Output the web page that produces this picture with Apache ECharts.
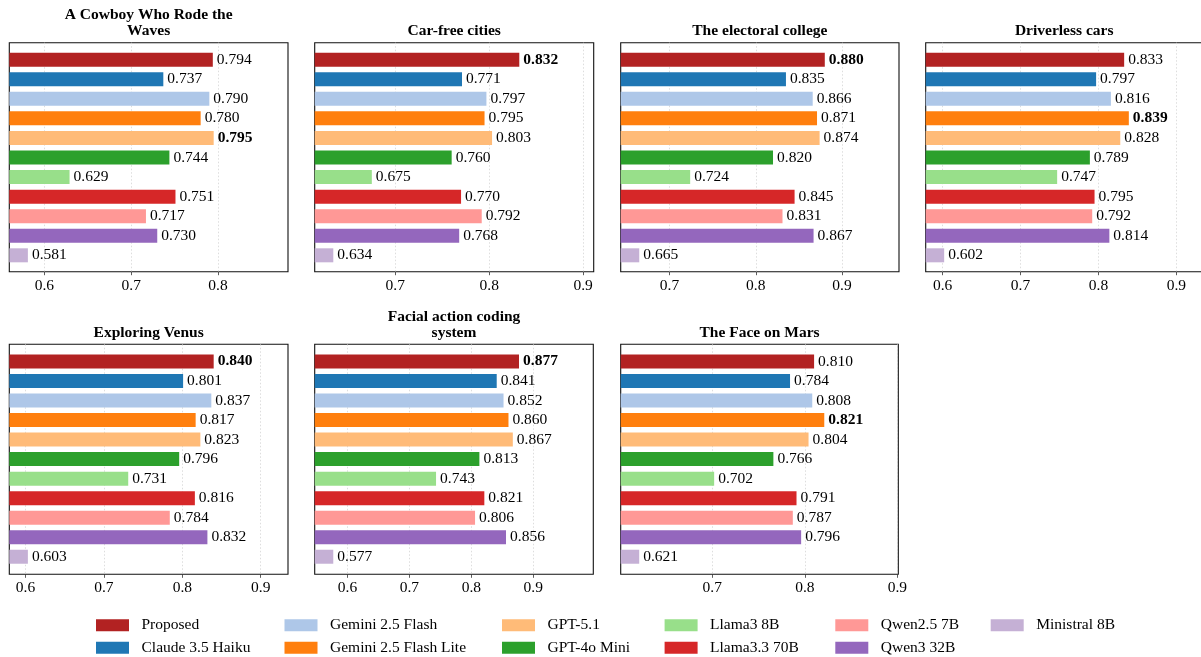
<!DOCTYPE html>
<html><head><meta charset="utf-8">
<script src="https://cdn.jsdelivr.net/npm/echarts@6/dist/echarts.min.js"></script>
<style>html,body{margin:0;padding:0;background:#fff}#c{width:1201px;height:657px}</style>
</head><body><div id="c"></div>
<script>
// ---- data ----
const models = ['Proposed','Claude 3.5 Haiku','Gemini 2.5 Flash','Gemini 2.5 Flash Lite','GPT-5.1','GPT-4o Mini','Llama3 8B','Llama3.3 70B','Qwen2.5 7B','Qwen3 32B','Ministral 8B'];
const colors = ['#b22222','#1f77b4','#aec7e8','#ff7f0e','#ffbb78','#2ca02c','#98df8a','#d62728','#ff9896','#9467bd','#c5b0d5'];
const titles = ['A Cowboy Who Rode the\nWaves','Car-free cities','The electoral college','Driverless cars','Exploring Venus','Facial action coding\nsystem','The Face on Mars'];
const cowboy     = [0.794,0.737,0.790,0.780,0.795,0.744,0.629,0.751,0.717,0.730,0.581];
const carFree    = [0.832,0.771,0.797,0.795,0.803,0.760,0.675,0.770,0.792,0.768,0.634];
const electoral  = [0.880,0.835,0.866,0.871,0.874,0.820,0.724,0.845,0.831,0.867,0.665];
const driverless = [0.833,0.797,0.816,0.839,0.828,0.789,0.747,0.795,0.792,0.814,0.602];
const venus      = [0.840,0.801,0.837,0.817,0.823,0.796,0.731,0.816,0.784,0.832,0.603];
const facs       = [0.877,0.841,0.852,0.860,0.867,0.813,0.743,0.821,0.806,0.856,0.577];
const mars       = [0.810,0.784,0.808,0.821,0.804,0.766,0.702,0.791,0.787,0.796,0.621];
const panelValues = [cowboy, carFree, electoral, driverless, venus, facs, mars];
const tickValues = [[0.6,0.7,0.8],[0.7,0.8,0.9],[0.7,0.8,0.9],[0.6,0.7,0.8,0.9],[0.6,0.7,0.8,0.9],[0.6,0.7,0.8,0.9],[0.7,0.8,0.9]];
const legendColumns = [[0,1],[2,3],[4,5],[6,7],[8,9],[10]];

// ---- layout ----
const FONT = "'Liberation Serif','Times New Roman',serif";
const FS = 15.5;
const boxLeft  = [9.3, 314.7, 620.7, 925.7, 9.3, 314.7, 620.7];
const boxWidth = [278.7, 279, 278.3, 277, 278.7, 278.6, 277.6];
const rowTop = [42.7, 344.3], rowH = [229, 230];
const barTop = [49.9, 351.7], barH = [215.2, 214.8];
const legendLeft = [96, 284.5, 502, 664.6, 835.3, 990.7];
const legendTop = [617.3, 639.7];

const grid = [], xAxis = [], yAxis = [], series = [], title = [];
panelValues.forEach((vals, p) => {
  const r = p < 4 ? 0 : 1;
  const mn = Math.min(...vals), mx = Math.max(...vals), rg = mx - mn;
  const xmin = mn - 0.1 * rg, xmax = mx + 0.4 * rg;
  // frame grid
  grid.push({left: boxLeft[p], top: rowTop[r], width: boxWidth[p], height: rowH[r], show: true,
    borderColor: '#111', borderWidth: 1.1, backgroundColor: 'transparent', containLabel: false, outerBoundsMode: 'none'});
  xAxis.push({gridIndex: 2*p, type: 'value', min: xmin, max: xmax,
    axisLine: {show: false},
    axisTick: {show: true, length: 3.5, lineStyle: {color: '#333', width: 0.8}, customValues: tickValues[p]},
    axisLabel: {show: true, customValues: tickValues[p], formatter: v => (+v).toFixed(1), fontFamily: FONT, fontSize: FS, color: '#000', margin: 6},
    splitLine: {show: true, lineStyle: {type: [1.5, 2], color: '#d4d4d4', width: 0.8}}});
  yAxis.push({gridIndex: 2*p, type: 'value', min: 0, max: 1, show: false});
  // bars grid
  grid.push({left: boxLeft[p], top: barTop[r], width: boxWidth[p], height: barH[r], show: false, containLabel: false, outerBoundsMode: 'none'});
  xAxis.push({gridIndex: 2*p+1, type: 'value', min: xmin, max: xmax, show: false, splitLine: {show: false}});
  yAxis.push({gridIndex: 2*p+1, type: 'category', data: models, inverse: true, show: false});
  title.push({text: titles[p], left: boxLeft[p] + boxWidth[p]/2, bottom: 657 - (rowTop[r] - 3.4), textAlign: 'center', padding: 0,
    textStyle: {fontFamily: FONT, fontSize: FS, fontWeight: 'bold', color: '#000', lineHeight: 16}});
  models.forEach((m, i) => {
    series.push({type: 'bar', name: m, xAxisIndex: 2*p+1, yAxisIndex: 2*p+1, barWidth: 14, barGap: '-100%',
      data: vals.map((v, j) => j === i ? v : '-'),
      itemStyle: {color: colors[i]},
      label: {show: true, position: 'right', distance: 4, fontFamily: FONT, fontSize: FS, color: '#000',
        formatter: d => d.value === mx ? '{b|' + d.value.toFixed(3) + '}' : d.value.toFixed(3),
        rich: {b: {fontFamily: FONT, fontSize: FS, fontWeight: 'bold', color: '#000'}}},
      emphasis: {disabled: true}, silent: true, animation: false});
  });
});

const legend = [];
legendColumns.forEach((col, k) => col.forEach((i, row) => legend.push({
  orient: 'horizontal', left: legendLeft[k], top: legendTop[row], padding: 0, itemWidth: 33, itemHeight: 12,
  icon: 'rect', selectedMode: false, data: [models[i]],
  itemStyle: {borderWidth: 0},
  textStyle: {fontFamily: FONT, fontSize: FS, color: '#000', lineHeight: 12, padding: [0, 0, 0, 7.5]}
})));

const chart = echarts.init(document.getElementById('c'), null, {renderer: 'canvas'});
chart.setOption({backgroundColor: '#fff', animation: false, title, grid, xAxis, yAxis, series, legend, tooltip: {show: false}});
</script></body></html>
